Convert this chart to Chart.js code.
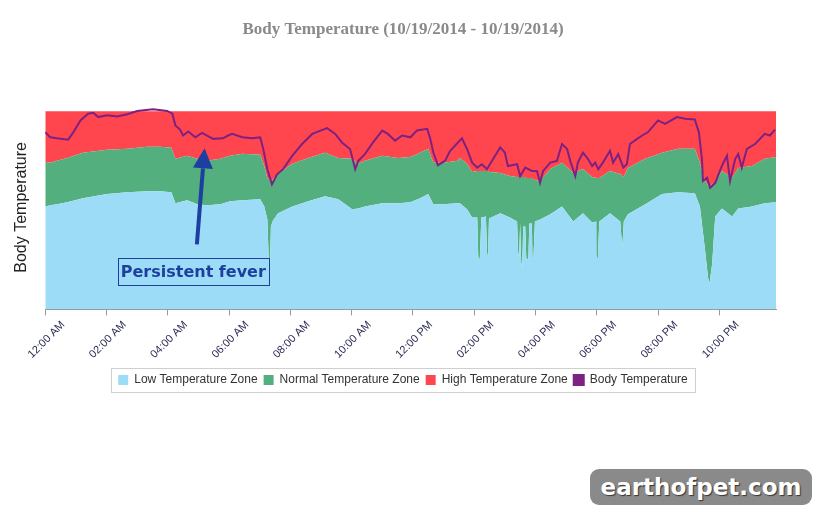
<!DOCTYPE html>
<html>
<head>
<meta charset="utf-8">
<script src="https://cdn.jsdelivr.net/npm/chart.js@4.4.0/dist/chart.umd.min.js"></script>
<style>
  body { margin: 0; background: #fff; }
  #wrap { position: relative; width: 815px; height: 510px; }
  #box { position: absolute; left: 0; top: 0; width: 815px; height: 398px; }
  #mark {
    position: absolute; left: 590px; top: 469px; width: 222px; height: 36px;
    background: #8a8a8a; border-radius: 9px; color: #fff;
    font: bold 23px "DejaVu Sans", sans-serif; text-align: center; line-height: 36px;
    text-shadow: 1px 1px 1px #333;
  }
</style>
</head>
<body>
<div id="wrap">
  <div id="box"><canvas id="tempChart"></canvas></div>
  <div id="mark">earthofpet.com</div>
</div>
<script>
// zone boundaries (deg F), sampled through the day
const zoneTimes = ['00:00','00:10','00:23','00:43','01:14','02:01','02:41','03:20','03:45','04:07',
  '04:15','04:38','04:58','05:17','05:43','06:02','06:26','07:01','07:09','07:15',
  '07:18','07:20','07:22','07:26','07:36','08:04','08:35','09:08','09:34','10:01',
  '10:13','10:26','11:00','11:31','11:55','12:14','12:30','12:40','12:59','13:28',
  '13:32','13:46','13:56','14:06','14:08','14:11','14:14','14:23','14:25','14:27',
  '14:29','14:51','15:10','15:24','15:26','15:28','15:30','15:32','15:34','15:36',
  '15:40','15:42','15:46','15:48','15:53','15:54','15:56','15:59','16:09','16:29',
  '16:52','17:14','17:33','17:51','17:59','18:00','18:02','18:05','18:26','18:46',
  '18:49','18:50','18:53','19:01','19:35','20:08','20:39','21:12','21:22','21:32',
  '21:38','21:41','21:46','21:52','22:05','22:25','22:37','23:04','23:29','23:51'];
const lowZoneTop = [101.20,101.26,101.31,101.41,101.61,101.82,101.92,101.97,101.97,101.92,
  101.36,101.51,101.31,101.26,101.31,101.46,101.51,101.56,101.20,100.54,
  98.30,98.09,100.18,100.49,100.85,101.20,101.46,101.71,101.56,101.05,
  101.10,101.20,101.36,101.36,101.41,101.61,101.82,101.31,101.31,101.36,
  101.36,101.05,100.64,100.64,98.65,98.50,100.64,100.69,98.91,98.55,
  100.59,100.85,100.64,100.44,98.91,98.60,100.34,98.40,98.09,100.18,
  100.18,98.60,98.50,100.34,100.34,98.65,98.60,100.44,100.54,100.80,
  101.20,100.44,100.85,100.39,100.44,98.65,98.50,100.44,100.85,100.44,
  99.42,99.16,100.44,100.80,101.31,101.82,101.92,101.87,101.20,99.01,
  97.58,97.33,98.30,100.69,101.10,100.69,101.10,101.20,101.36,101.41];
const normalZoneTop = [103.45,103.40,103.50,103.65,103.91,104.06,104.11,104.21,104.21,104.16,
  103.60,103.76,103.60,103.50,103.60,103.76,103.86,103.81,103.24,102.63,
  102.58,102.53,102.48,102.58,102.84,103.35,103.65,103.91,103.65,103.60,
  103.35,103.50,103.76,103.65,103.70,103.91,104.11,103.40,103.40,103.50,
  103.65,103.35,102.94,102.99,102.99,102.99,102.99,102.99,102.99,102.99,
  102.94,102.89,102.73,102.68,102.68,102.68,102.68,102.68,102.68,102.68,
  102.68,102.63,102.63,102.63,102.63,102.58,102.58,102.53,102.48,103.09,
  103.40,102.89,103.09,102.68,102.63,102.63,102.63,102.63,102.99,102.84,
  102.79,102.73,102.68,103.14,103.60,103.91,104.11,104.11,103.40,102.48,
  102.28,102.22,102.33,102.43,102.99,102.63,103.14,103.24,103.60,103.70];
const highZoneTop = 106.0;

// measured body temperature (deg F)
const bodyTimes = ['00:00','00:10','00:23','00:45','00:55','01:09','01:24','01:34','01:44','02:01',
  '02:21','02:41','03:00','03:31','03:59','04:09','04:15','04:24','04:30','04:40',
  '04:54','05:07','05:29','05:48','05:58','06:06','06:26','06:45','07:01','07:07',
  '07:15','07:24','07:34','07:46','08:04','08:23','08:43','09:12','09:28','09:41',
  '09:57','10:07','10:13','10:26','10:42','11:00','11:11','11:25','11:39','11:55',
  '12:08','12:28','12:34','12:40','12:49','13:03','13:13','13:36','13:46','13:56',
  '14:06','14:15','14:25','14:37','14:51','15:00','15:06','15:24','15:30','15:40',
  '15:53','16:03','16:09','16:15','16:29','16:42','16:52','17:02','17:08','17:18',
  '17:23','17:33','17:43','17:51','17:57','18:03','18:12','18:26','18:32','18:42',
  '18:52','18:59','19:05','19:19','19:29','19:40','20:00','20:14','20:37','20:53',
  '21:12','21:20','21:26','21:28','21:36','21:42','21:52','22:05','22:15','22:21',
  '22:31','22:37','22:44','22:54','23:10','23:29','23:39','23:49'];
const bodyTemps = [104.94,104.69,104.64,104.57,104.94,105.54,105.88,105.93,105.71,105.80,
  105.74,105.85,106.02,106.10,106.02,105.88,105.29,105.08,104.78,104.98,
  104.69,104.91,104.61,104.64,104.78,104.86,104.69,104.64,104.69,104.10,
  103.08,102.31,102.82,103.08,103.76,104.35,104.86,105.15,104.86,104.43,
  104.10,103.08,103.50,103.84,104.43,105.03,104.86,104.52,104.78,104.69,
  105.03,105.12,104.61,103.92,103.28,103.50,104.01,104.64,104.10,103.41,
  103.16,103.33,103.08,103.59,104.18,103.92,103.24,103.33,102.73,103.16,
  102.99,102.99,102.39,102.99,103.41,103.50,104.35,104.10,103.50,102.73,
  103.41,103.92,103.59,103.24,103.41,103.08,103.41,104.01,103.41,103.84,
  103.16,103.33,104.35,104.61,104.78,104.94,105.54,105.37,105.71,105.63,
  105.59,104.94,103.59,102.48,102.65,102.14,102.39,103.24,103.76,102.48,
  103.59,103.84,103.16,104.10,104.35,104.86,104.78,105.08];

const tickTimes = ['00:00','02:00','04:00','06:00','08:00','10:00','12:00','14:00','16:00','18:00','20:00','22:00'];
const tickLabels = ['12:00 AM','02:00 AM','04:00 AM','06:00 AM','08:00 AM','10:00 AM',
  '12:00 PM','02:00 PM','04:00 PM','06:00 PM','08:00 PM','10:00 PM'];

// note: arrow from tail to tip, label centre
const noteText = 'Persistent fever';
const arrowTail = ['04:57', 99.28];
const arrowTip = ['05:12', 104.13];
const noteAt = ['04:50', 97.91];

function toMin(s) {
  const p = s.split(':');
  return Number(p[0]) * 60 + Number(p[1]);
}

const tickValues = tickTimes.map(toMin);

// nudge title and legend like the original page
const blockShift = {
  id: 'blockShift',
  afterLayout(chart) {
    chart.titleBlock.left += 11;
    chart.titleBlock.right += 11;
    chart.legend.left += 11;
    chart.legend.right += 11;
    chart.legend.top += 4;
    chart.legend.bottom += 4;
  }
};

// draws the frame around the legend
const legendFrame = {
  id: 'legendFrame',
  afterDraw(chart) {
    const hb = chart.legend.legendHitBoxes;
    if (!hb || !hb.length) return;
    let l = Infinity, r = -Infinity, t = Infinity, b = -Infinity;
    hb.forEach(h => {
      l = Math.min(l, h.left); r = Math.max(r, h.left + h.width);
      t = Math.min(t, h.top); b = Math.max(b, h.top + h.height);
    });
    const c = chart.ctx;
    c.save();
    c.strokeStyle = '#cfcfcf';
    c.lineWidth = 1;
    c.strokeRect(Math.round(l - 7) + 0.5, Math.round(t - 6) + 0.5, Math.round(r - l + 14), Math.round(b - t + 12));
    c.restore();
  }
};

// arrow + boxed label
const feverNote = {
  id: 'feverNote',
  afterDatasetsDraw(chart) {
    const xs = chart.scales.x, ys = chart.scales.y, c = chart.ctx;
    const x0 = xs.getPixelForValue(toMin(arrowTail[0])), y0 = ys.getPixelForValue(arrowTail[1]);
    const x1 = xs.getPixelForValue(toMin(arrowTip[0])), y1 = ys.getPixelForValue(arrowTip[1]);
    const ang = Math.atan2(y1 - y0, x1 - x0);
    const headLen = 20, headW = 10;
    const bx = x1 - headLen * Math.cos(ang), by = y1 - headLen * Math.sin(ang);
    c.save();
    c.strokeStyle = '#1e3fa0';
    c.fillStyle = '#1e3fa0';
    c.lineWidth = 4;
    c.beginPath();
    c.moveTo(x0, y0);
    c.lineTo(bx, by);
    c.stroke();
    c.beginPath();
    c.moveTo(x1, y1);
    c.lineTo(bx + headW * Math.sin(ang), by - headW * Math.cos(ang));
    c.lineTo(bx - headW * Math.sin(ang), by + headW * Math.cos(ang));
    c.closePath();
    c.fill();

    const cx = xs.getPixelForValue(toMin(noteAt[0])), cy = ys.getPixelForValue(noteAt[1]);
    c.font = 'bold 16px "DejaVu Sans", sans-serif';
    const w = c.measureText(noteText).width + 6, h = 27;
    c.lineWidth = 1;
    c.strokeRect(Math.round(cx - w / 2) + 0.5, Math.round(cy - h / 2) + 0.5, Math.round(w), h);
    c.textAlign = 'center';
    c.textBaseline = 'middle';
    c.fillText(noteText, cx, cy + 1);
    c.restore();
  }
};

const ctx = document.getElementById('tempChart').getContext('2d');

const zonePts = vals => zoneTimes.map((t, i) => ({ x: toMin(t), y: vals[i] }));

const data = {
  datasets: [{
    label: 'Low Temperature Zone',
    data: zonePts(lowZoneTop),
    backgroundColor: '#9ddcf7',
    borderColor: '#9ddcf7',
    borderWidth: 0,
    pointRadius: 0,
    fill: 'start',
    order: 1
  }, {
    label: 'Normal Temperature Zone',
    data: zonePts(normalZoneTop),
    backgroundColor: '#53b07e',
    borderColor: '#53b07e',
    borderWidth: 0,
    pointRadius: 0,
    fill: '-1',
    order: 1
  }, {
    label: 'High Temperature Zone',
    data: zoneTimes.map(t => ({ x: toMin(t), y: highZoneTop })),
    backgroundColor: '#ff464f',
    borderColor: '#ff464f',
    borderWidth: 0,
    pointRadius: 0,
    fill: '-1',
    order: 1
  }, {
    label: 'Body Temperature',
    data: bodyTimes.map((t, i) => ({ x: toMin(t), y: bodyTemps[i] })),
    backgroundColor: '#7d2182',
    borderColor: '#7d2182',
    borderWidth: 2,
    pointRadius: 0,
    fill: false,
    tension: 0,
    order: 0
  }]
};

const config = {
  type: 'line',
  data: data,
  options: {
    responsive: true,
    maintainAspectRatio: false,
    animation: false,
    layout: {
      padding: { left: 8, right: 39, bottom: 6 }
    },
    scales: {
      x: {
        type: 'linear',
        min: 0,
        max: 1431,
        afterBuildTicks: function(axis) {
          axis.ticks = tickValues.map(v => ({ value: v }));
        },
        ticks: {
          autoSkip: false,
          minRotation: 45,
          maxRotation: 45,
          labelOffset: 18,
          callback: function(value) {
            return tickLabels[tickValues.indexOf(value)];
          },
          color: '#2b2b55',
          font: {
            family: '"Liberation Sans", Arial, sans-serif',
            size: 11
          }
        },
        grid: {
          display: true,
          drawOnChartArea: false,
          tickLength: 6,
          color: '#999'
        },
        border: {
          color: '#999'
        }
      },
      y: {
        min: 96,
        max: 106.3,
        ticks: {
          display: false
        },
        grid: {
          display: false
        },
        border: {
          display: false
        },
        title: {
          display: true,
          text: 'Body Temperature',
          color: '#222',
          padding: { top: 4, bottom: 6 },
          font: {
            family: '"Liberation Sans", Arial, sans-serif',
            size: 16
          }
        }
      }
    },
    plugins: {
      title: {
        display: true,
        text: 'Body Temperature (10/19/2014 - 10/19/2014)',
        color: '#8a8a8a',
        padding: { top: 19, bottom: 66 },
        font: {
          family: '"Liberation Serif", "DejaVu Serif", serif',
          size: 17,
          weight: 'bold'
        }
      },
      legend: {
        display: true,
        position: 'bottom',
        labels: {
          boxWidth: 10,
          boxHeight: 10,
          padding: 6,
          color: '#333',
          sort: (a, b) => a.datasetIndex - b.datasetIndex,
          font: {
            family: '"Liberation Sans", Arial, sans-serif',
            size: 12
          }
        }
      },
      tooltip: {
        enabled: false
      }
    }
  },
  plugins: [blockShift, legendFrame, feverNote]
};

const tempChart = new Chart(ctx, config);
</script>
</body>
</html>
